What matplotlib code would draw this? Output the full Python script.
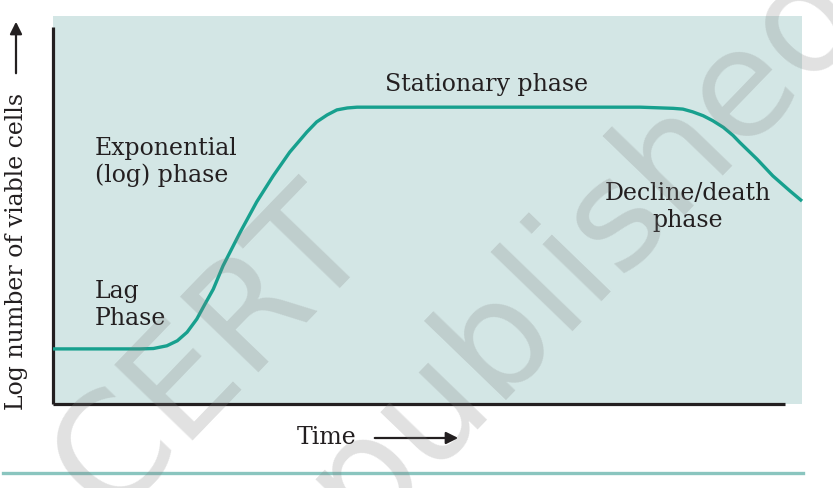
import matplotlib

matplotlib.use("Agg")
import matplotlib.pyplot as plt

# bacterial growth curve (arbitrary units 0-10)
time = [0.0, 1.16, 1.34, 1.52, 1.66, 1.79, 1.92, 2.03, 2.14, 2.27, 2.50, 2.72,
        2.94, 3.16, 3.39, 3.52, 3.66, 3.79, 3.93, 4.06, 7.84, 8.28, 8.41, 8.54,
        8.68, 8.81, 8.95, 9.08, 9.17, 9.40, 9.61, 9.84, 10.0]
log_cells = [1.42, 1.42, 1.43, 1.50, 1.63, 1.85, 2.19, 2.58, 2.96, 3.56, 4.43, 5.21,
             5.88, 6.49, 7.01, 7.27, 7.45, 7.58, 7.63, 7.65, 7.65, 7.62, 7.60, 7.53,
             7.43, 7.30, 7.13, 6.92, 6.74, 6.31, 5.88, 5.49, 5.23]

phase_labels = ["Lag\nPhase", "Exponential\n(log) phase", "Stationary phase",
                "Decline/death\nphase"]
phase_pos = [(0.56, 2.58), (0.56, 6.26), (5.79, 8.25), (8.48, 5.10)]
phase_ha = ["left", "left", "center", "center"]

W, H = 833, 489
SERIF = "DejaVu Serif"
INK = "#231f20"
CURVE = "#17a08e"
PANEL = "#d3e6e5"


def fx(px):
    return px / W


def fy(py):
    return 1 - py / H


fig = plt.figure(figsize=(W / 100, H / 100), dpi=100)
ax = fig.add_axes([fx(53), fy(405), fx(802) - fx(53), fy(17) - fy(405)])
ax.set_facecolor(PANEL)
ax.set_xlim(0, 10)
ax.set_ylim(0, 10)
ax.set_xticks([])
ax.set_yticks([])
for side in ["top", "right"]:
    ax.spines[side].set_visible(False)
for side in ["left", "bottom"]:
    ax.spines[side].set_linewidth(2.3)
    ax.spines[side].set_color(INK)
    ax.spines[side].set_capstyle("butt")
ax.spines["left"].set_bounds(0, 9.72)
ax.spines["bottom"].set_bounds(0, 9.77)

ax.plot(time, log_cells, color=CURVE, lw=2.4, solid_capstyle="butt",
        solid_joinstyle="round", zorder=3, clip_on=False)

for lab, (x, y), ha in zip(phase_labels, phase_pos, phase_ha):
    ax.text(x, y, lab, ha=ha, va="center", family=SERIF, fontsize=17,
            color=INK, linespacing=1.2, zorder=4)

# axis titles with arrows
fig.text(fx(17), fy(251), "Log number of viable cells", rotation=90, ha="center",
         va="center", family=SERIF, fontsize=17, color=INK)
fig.text(fx(327), fy(438), "Time", ha="center", va="center", family=SERIF,
         fontsize=17, color=INK)
arrow = dict(arrowstyle="-|>,head_length=0.6,head_width=0.3", color=INK, lw=1.6)
fig.add_artist(matplotlib.patches.FancyArrowPatch(
    (fx(16), fy(77)), (fx(16), fy(20)), transform=fig.transFigure, **arrow,
    mutation_scale=12))
fig.add_artist(matplotlib.patches.FancyArrowPatch(
    (fx(372), fy(439)), (fx(461), fy(439)), transform=fig.transFigure, **arrow,
    mutation_scale=12))

# rule below the figure
fig.add_artist(matplotlib.lines.Line2D([fx(3), fx(803)], [fy(474), fy(474)],
                                       color="#8ac5bf", lw=2.4))

# faint watermark
for word, (px, py) in [("CERT", (212, 352)), ("published", (585, 245))]:
    fig.text(fx(px), fy(py), word, rotation=46, ha="center", va="center",
             rotation_mode="anchor", fontsize=108, color="#808080", alpha=0.24,
             family="DejaVu Sans", zorder=2)

fig.savefig("out.png", dpi=100)
